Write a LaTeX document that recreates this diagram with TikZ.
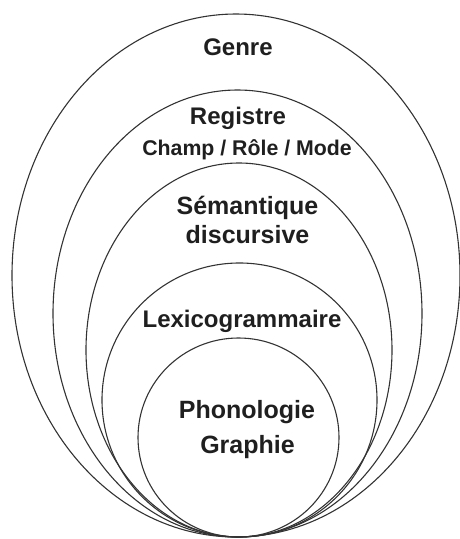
\documentclass[tikz,border=0pt]{standalone}
\usepackage{fontspec}
\setmainfont{Liberation Sans}

\begin{document}
\begin{tikzpicture}[x=1pt,y=-1pt,
    nivell/.style={draw=black!80, line width=1.1pt},
    etiqueta/.style={anchor=base, inner sep=0pt, text=black!88,
      font=\fontsize{24}{28}\selectfont\bfseries},
    gran/.style={etiqueta, font=\fontsize{25}{29}\selectfont\bfseries},
    subetiqueta/.style={etiqueta, font=\fontsize{21.3}{25}\selectfont\bfseries}]
  \useasboundingbox (0,0) rectangle (460,539);
  % El\.lipses encaixades (totes tangents a baix, y = 537)
  \draw[nivell] (236,275.5)   ellipse [x radius=224,   y radius=261.5];
  \draw[nivell] (237.5,313.5) ellipse [x radius=184.5, y radius=223.5];
  \draw[nivell] (239,350)     ellipse [x radius=153,   y radius=187];
  \draw[nivell] (239.5,400)   ellipse [x radius=137.5, y radius=137];
  \draw[nivell] (238.5,437.5) ellipse [x radius=100.5, y radius=99.5];
  % Textos
  \node[etiqueta]    (genre)  at (238,55)  {Genre};
  \node[etiqueta]    (reg)    at (238,124) {Registre};
  \node[subetiqueta] (crm)    at (247,155) {Champ / Rôle / Mode};
  \node[gran]        (sem)    at (247.5,214) {Sémantique};
  \node[gran]        (disc)   at (247.5,243) {discursive};
  \node[etiqueta]    (lexgr)  at (242,327) {Lexicogrammaire};
  \node[gran]        (phon)   at (247,418) {Phonologie};
  \node[gran]        (graph)  at (247.5,453) {Graphie};
\end{tikzpicture}
\end{document}
